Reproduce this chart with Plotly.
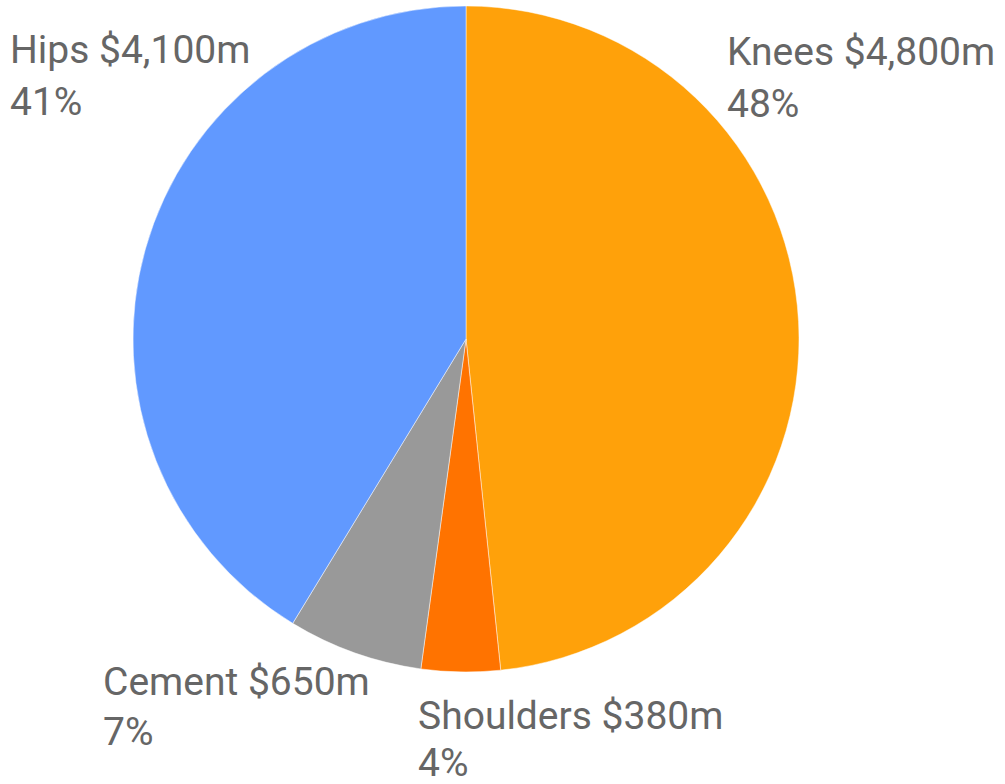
import plotly.graph_objects as go

categories = ["Knees", "Shoulders", "Cement", "Hips"]
values = [4800, 380, 650, 4100]
value_labels = ["$4,800m", "$380m", "$650m", "$4,100m"]
colors = ["#FFA10A", "#FF7300", "#999999", "#6199FF"]

W, H = 1005, 784
total = sum(values)

fig = go.Figure(go.Pie(
    labels=categories,
    values=values,
    sort=False,
    direction="clockwise",
    rotation=0,
    marker=dict(colors=colors, line=dict(color="rgba(255,255,255,0.6)", width=0.8)),
    textinfo="none",
    hoverinfo="label+value+percent",
    showlegend=False,
    domain=dict(x=[133 / W, 799 / W], y=[1 - 672 / H, 1 - 6 / H]),
))

# label anchor positions (pixel, top-left origin) for line 1 and line 2
label_pos = {
    "Knees": (725, 52, 104),
    "Shoulders": (416, 716, 763),
    "Cement": (101, 682, 732),
    "Hips": (8, 50, 102),
}

font = dict(family="Roboto, 'Open Sans', sans-serif", size=39, color="#666666")
for cat, v, vl in zip(categories, values, value_labels):
    x, y1, y2 = label_pos[cat]
    pct = f"{round(100 * v / total)}%"
    for txt, yy in ((f"{cat} {vl}", y1), (pct, y2)):
        fig.add_annotation(
            x=x / W, y=1 - yy / H, xref="paper", yref="paper",
            text=txt, showarrow=False, xanchor="left", yanchor="middle",
            font=font,
        )

fig.update_layout(
    width=W, height=H,
    margin=dict(l=0, r=0, t=0, b=0),
    paper_bgcolor="white",
    plot_bgcolor="white",
)

fig.write_html(
    "out.html",
    config={"displayModeBar": False},
    post_script="document.body.style.margin='0';",
)
